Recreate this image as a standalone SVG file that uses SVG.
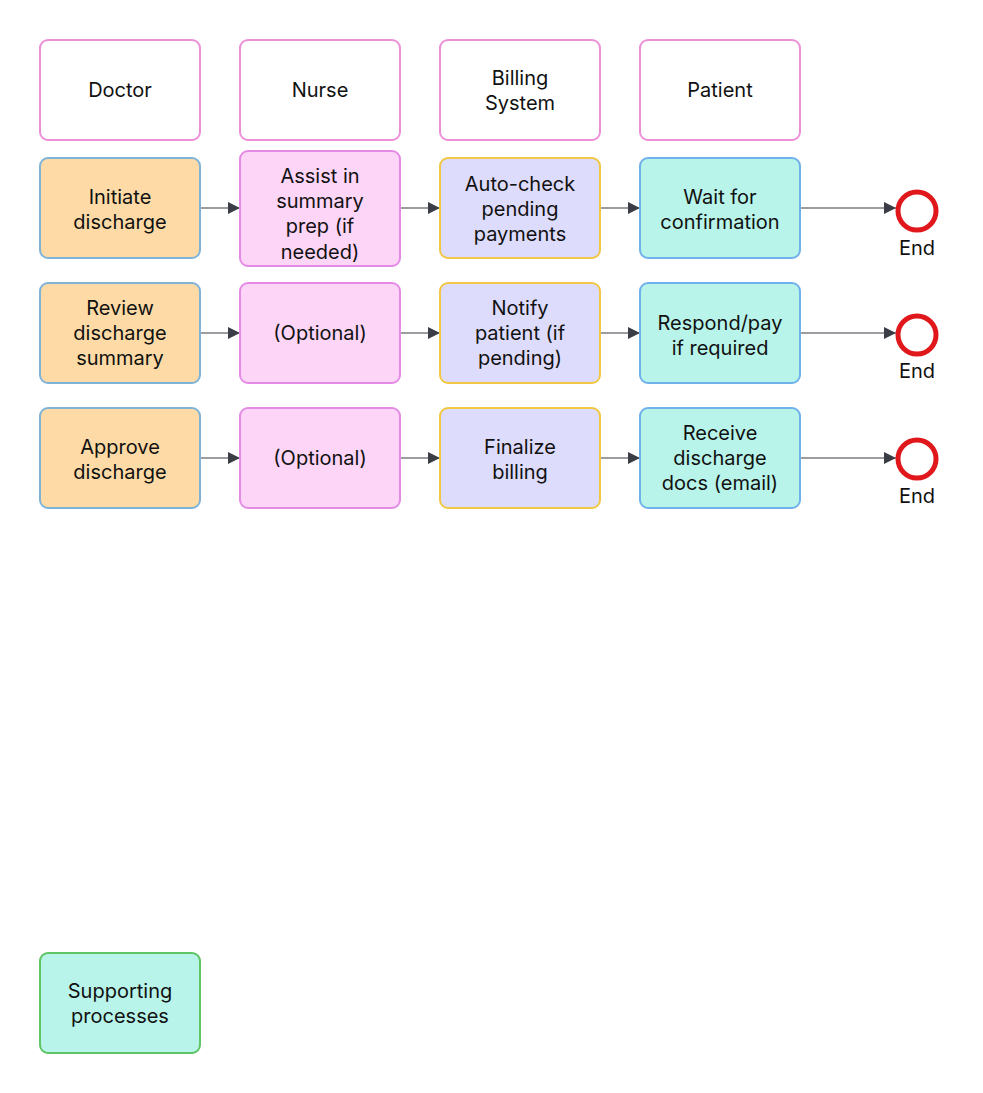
<svg xmlns="http://www.w3.org/2000/svg" width="983" height="1093" viewBox="0 0 983 1093">
<defs>
<style>
text{font-family:Inter,"Noto Sans","Liberation Sans",sans-serif;font-size:20px;fill:#111;text-anchor:middle}
.hdr{fill:#fff;stroke:#ec8fd8;stroke-width:2}
.doc{fill:#fedba6;stroke:#7fb3d8;stroke-width:2}
.nur{fill:#fdd5f7;stroke:#e48be6;stroke-width:2}
.bil{fill:#dedcfc;stroke:#f2c744;stroke-width:2}
.pat{fill:#b8f4ea;stroke:#6fb1ea;stroke-width:2}
.sup{fill:#b8f4ea;stroke:#5fc463;stroke-width:2}
.end{fill:#fff;stroke:#e0181c;stroke-width:5}
.c{stroke:#3a3d45;stroke-width:1.2;fill:none;marker-end:url(#ah)}
</style>
<marker id="ah" viewBox="0 0 10 10" refX="10" refY="5" markerWidth="17" markerHeight="12" markerUnits="userSpaceOnUse" orient="auto">
<path d="M0,0 L10,5 L0,10 z" fill="#3a3d45"/>
</marker>
</defs>
<rect width="983" height="1093" fill="#fff"/>
<g id="h-doctor"><rect class="hdr" x="40" y="40" width="160" height="100" rx="8"/><text x="120" y="97">Doctor</text></g>
<g id="h-nurse"><rect class="hdr" x="240" y="40" width="160" height="100" rx="8"/><text x="320" y="97">Nurse</text></g>
<g id="h-billing"><rect class="hdr" x="440" y="40" width="160" height="100" rx="8"/><text x="520" y="85">Billing</text><text x="520" y="110">System</text></g>
<g id="h-patient"><rect class="hdr" x="640" y="40" width="160" height="100" rx="8"/><text x="720" y="97">Patient</text></g>

<g id="connectors">
<path class="c" d="M200,208 H240"/>
<path class="c" d="M400,208 H440"/>
<path class="c" d="M600,208 H640"/>
<path class="c" d="M800,208 H896"/>
<path class="c" d="M200,333 H240"/>
<path class="c" d="M400,333 H440"/>
<path class="c" d="M600,333 H640"/>
<path class="c" d="M800,333 H896"/>
<path class="c" d="M200,458 H240"/>
<path class="c" d="M400,458 H440"/>
<path class="c" d="M600,458 H640"/>
<path class="c" d="M800,458 H896"/>
</g>

<g id="n-initiate"><rect class="doc" x="40" y="158" width="160" height="100" rx="8"/><text x="120" y="204">Initiate</text><text x="120" y="229">discharge</text></g>
<g id="n-assist"><rect class="nur" x="240" y="151" width="160" height="115" rx="8"/><text x="320" y="183">Assist in</text><text x="320" y="208">summary</text><text x="320" y="233">prep (if</text><text x="320" y="259">needed)</text></g>
<g id="n-autocheck"><rect class="bil" x="440" y="158" width="160" height="100" rx="8"/><text x="520" y="191">Auto-check</text><text x="520" y="216">pending</text><text x="520" y="241">payments</text></g>
<g id="n-wait"><rect class="pat" x="640" y="158" width="160" height="100" rx="8"/><text x="720" y="204">Wait for</text><text x="720" y="229">confirmation</text></g>
<g id="end1"><circle class="end" cx="917" cy="211" r="19"/><text x="917" y="255">End</text></g>

<g id="n-review"><rect class="doc" x="40" y="283" width="160" height="100" rx="8"/><text x="120" y="315">Review</text><text x="120" y="340">discharge</text><text x="120" y="365">summary</text></g>
<g id="n-opt1"><rect class="nur" x="240" y="283" width="160" height="100" rx="8"/><text x="320" y="340">(Optional)</text></g>
<g id="n-notify"><rect class="bil" x="440" y="283" width="160" height="100" rx="8"/><text x="520" y="315">Notify</text><text x="520" y="340">patient (if</text><text x="520" y="365">pending)</text></g>
<g id="n-respond"><rect class="pat" x="640" y="283" width="160" height="100" rx="8"/><text x="720" y="330">Respond/pay</text><text x="720" y="355">if required</text></g>
<g id="end2"><circle class="end" cx="917" cy="335" r="19"/><text x="917" y="378">End</text></g>

<g id="n-approve"><rect class="doc" x="40" y="408" width="160" height="100" rx="8"/><text x="120" y="454">Approve</text><text x="120" y="479">discharge</text></g>
<g id="n-opt2"><rect class="nur" x="240" y="408" width="160" height="100" rx="8"/><text x="320" y="465">(Optional)</text></g>
<g id="n-finalize"><rect class="bil" x="440" y="408" width="160" height="100" rx="8"/><text x="520" y="454">Finalize</text><text x="520" y="479">billing</text></g>
<g id="n-receive"><rect class="pat" x="640" y="408" width="160" height="100" rx="8"/><text x="720" y="440">Receive</text><text x="720" y="465">discharge</text><text x="720" y="490">docs (email)</text></g>
<g id="end3"><circle class="end" cx="917" cy="459" r="19"/><text x="917" y="503">End</text></g>

<g id="n-supporting"><rect class="sup" x="40" y="953" width="160" height="100" rx="8"/><text x="120" y="998">Supporting</text><text x="120" y="1023">processes</text></g>
</svg>
